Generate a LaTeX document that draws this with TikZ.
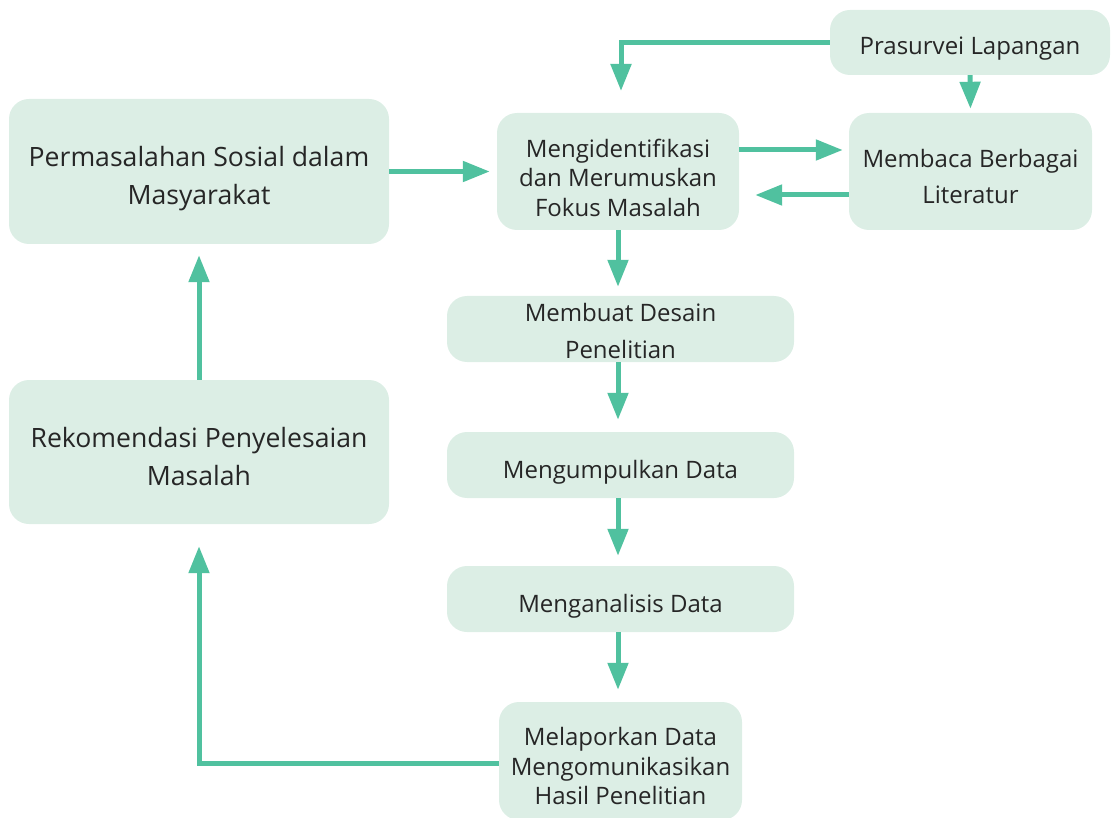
\documentclass[tikz,border=0pt]{standalone}
\usepackage{fontspec}
\setmainfont{Open Sans}
\usepackage{tikz}
\usetikzlibrary{arrows.meta}
\definecolor{boxfill}{HTML}{DCEEE5}
\definecolor{flowgreen}{HTML}{50C19F}
\definecolor{txt}{HTML}{262626}
\tikzset{>={Triangle[length=27pt,width=20pt]}}

\begin{document}
\begin{tikzpicture}[x=1pt, y=-1pt]
                        % coordinates are pixels of the sketch, y grows downwards
                        \tikzset{box/.style={rectangle, rounded corners=20pt, fill=boxfill, inner sep=0pt}}
                        \tikzset{lbl/.style={text=txt, align=center, inner sep=0pt}}
                        \tikzset{flow/.style={draw=flowgreen, line width=5pt, ->}}
                        \useasboundingbox (0,0) rectangle (1111,818);

                        \node[box, minimum width=380pt, minimum height=145pt, label={[lbl, yshift=-7pt, font=\fontsize{26.6}{38}\selectfont]center:Permasalahan Sosial dalam\\Masyarakat}] (perm) at (199,171.5) {};
                        \node[box, minimum width=380pt, minimum height=144pt, label={[lbl, yshift=-5pt, font=\fontsize{26.6}{38}\selectfont]center:Rekomendasi Penyelesaian\\Masalah}] (rekom) at (199,452) {};
                        \node[box, minimum width=242pt, minimum height=117pt, label={[lbl, yshift=-6pt, font=\fontsize{24}{29.5}\selectfont]center:Mengidentifikasi\\dan Merumuskan\\Fokus Masalah}] (idf) at (618,171.5) {};
                        \node[box, minimum width=280pt, minimum height=65pt, label={[lbl, yshift=-6pt, font=\fontsize{24}{34}\selectfont]center:Prasurvei Lapangan}] (pra) at (970,42.5) {};
                        \node[box, minimum width=243pt, minimum height=117pt, label={[lbl, yshift=-5pt, font=\fontsize{24}{36}\selectfont]center:Membaca Berbagai\\Literatur}] (baca) at (970.5,171.5) {};
                        \node[box, minimum width=347pt, minimum height=66pt, label={[lbl, yshift=-2pt, font=\fontsize{24}{37}\selectfont]center:Membuat Desain\\Penelitian}] (desain) at (620.5,329) {};
                        \node[box, minimum width=347pt, minimum height=66pt, label={[lbl, yshift=-7pt, font=\fontsize{24}{34}\selectfont]center:Mengumpulkan Data}] (kumpul) at (620.5,465) {};
                        \node[box, minimum width=347pt, minimum height=66pt, label={[lbl, yshift=-7pt, font=\fontsize{24}{34}\selectfont]center:Menganalisis Data}] (analisis) at (620.5,599) {};
                        \node[box, minimum width=243pt, minimum height=118pt, label={[lbl, yshift=-5pt, font=\fontsize{24}{29.5}\selectfont]center:Melaporkan Data\\Mengomunikasikan\\Hasil Penelitian}] (lapor) at (620.5,761) {};

                        \coordinate (idfin) at (621,91);

                        \draw[flow, shorten >=7pt] (perm.east) -- (idf.west);
                        \draw[flow, shorten >=6pt] ([yshift=21.5pt]idf.east) -- ([yshift=21.5pt]baca.west);
                        \draw[flow, shorten >=16pt] ([yshift=-23.5pt]baca.west) -- ([yshift=-23.5pt]idf.east);
                        \draw[flow] (pra.west) -| (idfin);
                        \draw[flow, shorten >=4pt] (pra.south) -- (baca.north);

                        \draw[flow, shorten >=9pt] (idf.south) -- (idf.south |- desain.north);
                        \draw[flow, shorten >=12pt] (desain.south -| idf.south) -- (kumpul.north -| idf.south);
                        \draw[flow, shorten >=10pt] (kumpul.south -| idf.south) -- (analisis.north -| idf.south);
                        \draw[flow, shorten >=12pt] (analisis.south -| idf.south) -- (lapor.north -| idf.south);

                        \draw[flow, shorten >=22pt] ([yshift=-2pt]lapor.west) -| (rekom.south);
                        \draw[flow, shorten >=11pt] (rekom.north) -- (perm.south);
\end{tikzpicture}
\end{document}
